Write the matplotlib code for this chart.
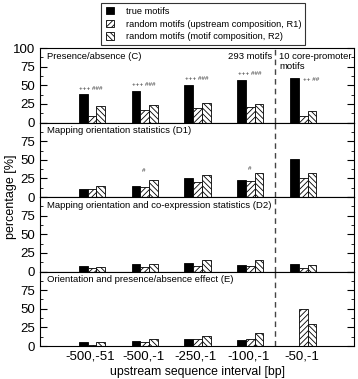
import numpy as np
import matplotlib
matplotlib.use('Agg')
import matplotlib.pyplot as plt
from matplotlib.ticker import MultipleLocator

intervals = ['-500,-51', '-500,-1', '-250,-1', '-100,-1', '-50,-1']
panel_titles = ['Presence/absence (C)',
                'Mapping orientation statistics (D1)',
                'Mapping orientation and co-expression statistics (D2)',
                'Orientation and presence/absence effect (E)']

# percentages per panel: true motifs, R1, R2
true_c = [38, 43, 51, 57, 60]
r1_c = [9, 17, 20, 21, 9]
r2_c = [22, 24, 26, 25, 16]

true_d1 = [11, 15, 25, 23, 51]
r1_d1 = [11, 14, 20, 21, 25]
r2_d1 = [15, 23, 29, 32, 33]

true_d2 = [7, 10, 12, 9, 10]
r1_d2 = [5, 6, 8, 7, 5]
r2_d2 = [6, 10, 15, 16, 9]

true_e = [5, 7, 10, 8, 0]
r1_e = [2, 6, 10, 10, 50]
r2_e = [5, 10, 14, 17, 29]

sig_c = ['+++ ###', '+++ ###', '+++ ###', '+++ ###', '++ ##']
sig_d1 = ['', '#', '', '#', '']

panels = [(true_c, r1_c, r2_c), (true_d1, r1_d1, r2_d1),
          (true_d2, r1_d2, r2_d2), (true_e, r1_e, r2_e)]

plt.rcParams['hatch.linewidth'] = 0.6
plt.rcParams['font.family'] = 'Liberation Sans'

fig, axes = plt.subplots(4, 1, sharex=True, figsize=(3.58, 3.79), dpi=100)
fig.subplots_adjust(left=0.112, right=0.99, bottom=0.087, top=0.873, hspace=0)

x = np.arange(1, len(intervals) + 1)
w = 0.165
handles = None
for i, ax in enumerate(axes):
    t, r1, r2 = panels[i]
    b0 = ax.bar(x - w + 0.03, t, w, color='black', edgecolor='black', lw=0.6)
    b1 = ax.bar(x + 0.03, r1, w, color='white', edgecolor='black', hatch='//////', lw=0.6)
    b2 = ax.bar(x + w + 0.03, r2, w, color='white', edgecolor='black', hatch='\\\\\\\\\\\\', lw=0.6)
    if handles is None:
        handles = [b0, b1, b2]
    ax.set_ylim(0, 100)
    ax.set_xlim(0.05, 6.0)
    ax.axvline(4.5, color='#444444', ls=(0, (4, 3)), lw=1)
    ax.yaxis.set_major_locator(MultipleLocator(25))
    ax.yaxis.set_minor_locator(MultipleLocator(12.5))
    ax.tick_params(axis='y', which='both', direction='in', right=True, labelsize=9.5)
    ax.tick_params(axis='y', which='major', length=5)
    ax.tick_params(axis='y', which='minor', length=2.5)
    ax.tick_params(axis='x', length=0, labelsize=9.5)
    if i > 0:
        ax.set_yticks([0, 25, 50, 75, 100])
        ax.set_yticklabels(['0', '25', '50', '75', ''])
    ax.text(0.18, 95, panel_titles[i], fontsize=6.8, va='top', ha='left')

ax0 = axes[0]
for xi, v, s in zip(x[:4], true_c[:4], sig_c[:4]):
    ax0.text(xi + 0.01, v + 5, s, fontsize=4.5, ha='center', va='bottom', color='#333333')
ax0.text(x[4] + 0.18, true_c[4] - 6, sig_c[4], fontsize=4.5, ha='center', va='bottom', color='#333333')
ax0.text(4.45, 95, '293 motifs', fontsize=6.8, ha='right', va='top')
ax0.text(4.58, 95, '10 core-promoter\nmotifs', fontsize=6.8, ha='left', va='top', linespacing=1.1)

for xi, v, s in zip(x, true_d1, sig_d1):
    if s:
        ax = axes[1]
        ax.text(xi + 0.01, max(v, 20) + 12, s, fontsize=4.5, ha='center', va='bottom', color='#333333')

axes[-1].set_xticks(x)
axes[-1].set_xticklabels(intervals)
axes[-1].set_xlabel('upstream sequence interval [bp]', fontsize=8.8, labelpad=2)
fig.text(0.03, 0.48, 'percentage [%]', rotation=90, fontsize=9, ha='center', va='center')

leg = fig.legend(handles, ['true motifs', 'random motifs (upstream composition, R1)',
                           'random motifs (motif composition, R2)'],
                 loc='upper center', bbox_to_anchor=(0.568, 0.998), fontsize=6.7,
                 frameon=True, fancybox=False, edgecolor='black', handlelength=0.85,
                 handleheight=0.8, borderpad=0.45, labelspacing=0.4, handletextpad=1.3,
                 borderaxespad=0.2)
leg.get_frame().set_linewidth(0.8)

plt.savefig('out.png', dpi=100)
